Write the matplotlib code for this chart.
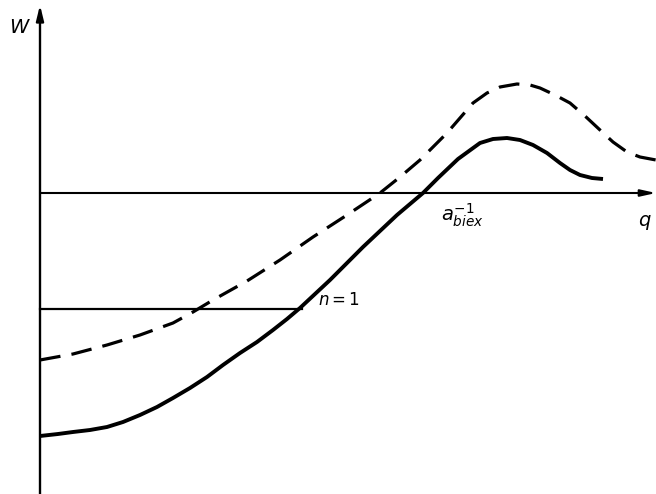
import matplotlib
matplotlib.use("Agg")
import matplotlib.pyplot as plt

# Solid curve
q_solid = [0.00, 0.18, 0.33, 0.50, 0.67, 0.83, 1.00, 1.17, 1.33, 1.50, 1.67,
           1.83, 2.00, 2.17, 2.33, 2.47, 2.60, 2.75, 2.90, 3.07, 3.23, 3.40,
           3.57, 3.70, 3.83, 3.98, 4.18, 4.40, 4.53, 4.67, 4.80, 4.93, 5.07,
           5.20, 5.30, 5.40, 5.52, 5.63]
W_solid = [-2.43, -2.41, -2.39, -2.37, -2.34, -2.29, -2.22, -2.14, -2.05, -1.95,
           -1.84, -1.72, -1.60, -1.49, -1.37, -1.26, -1.15, -1.01, -0.87, -0.70,
           -0.54, -0.38, -0.22, -0.11, 0.00, 0.15, 0.34, 0.50, 0.54, 0.55,
           0.53, 0.48, 0.40, 0.30, 0.23, 0.18, 0.15, 0.14]

# Dashed curve
q_dash = [0.00, 0.33, 0.67, 1.00, 1.33, 1.53, 1.73, 2.07, 2.40, 2.73, 3.07,
          3.40, 3.60, 3.80, 3.93, 4.07, 4.20, 4.33, 4.47, 4.60, 4.77, 4.90,
          5.00, 5.15, 5.30, 5.45, 5.60, 5.73, 5.87, 6.00, 6.16]
W_dash = [-1.67, -1.61, -1.52, -1.42, -1.30, -1.19, -1.07, -0.88, -0.67, -0.44,
          -0.22, 0.00, 0.16, 0.33, 0.46, 0.60, 0.75, 0.90, 1.00, 1.06, 1.09,
          1.08, 1.05, 0.98, 0.90, 0.77, 0.63, 0.51, 0.41, 0.36, 0.33]

# n = 1 level
n1_level = -1.16
n1_q_end = 2.62

fig = plt.figure(figsize=(6.56, 4.94), dpi=100)
ax = fig.add_axes([0, 0, 1, 1])
ax.set_xlim(-0.40, 6.16)
ax.set_ylim(-3.01, 1.93)
ax.axis("off")

# axes with arrows
ax.annotate("", xy=(0, 1.88), xytext=(0, -3.05),
            arrowprops=dict(arrowstyle="-|>,head_length=0.9,head_width=0.22",
                            lw=1.7, color="black", shrinkA=0, shrinkB=0))
ax.annotate("", xy=(6.16, 0), xytext=(0, 0),
            arrowprops=dict(arrowstyle="-|>,head_length=0.9,head_width=0.2",
                            lw=1.5, color="black", shrinkA=0, shrinkB=0))

ax.plot(q_solid, W_solid, color="black", lw=2.8, solid_capstyle="butt",
        solid_joinstyle="round")
ax.plot(q_dash, W_dash, color="black", lw=2.3, dashes=(6.5, 3.5))
ax.plot([0, n1_q_end], [n1_level, n1_level], color="black", lw=1.6)

ax.text(-0.20, 1.65, "$W$", fontsize=14, ha="center", va="center")
ax.text(6.05, -0.29, "$q$", fontsize=14, ha="center", va="center")
ax.text(4.01, -0.22, r"$a^{-1}_{biex}$", fontsize=14, ha="left", va="center")
ax.text(2.78, -1.07, "$n=1$", fontsize=12, ha="left", va="center")

fig.savefig("out.png", dpi=100)
